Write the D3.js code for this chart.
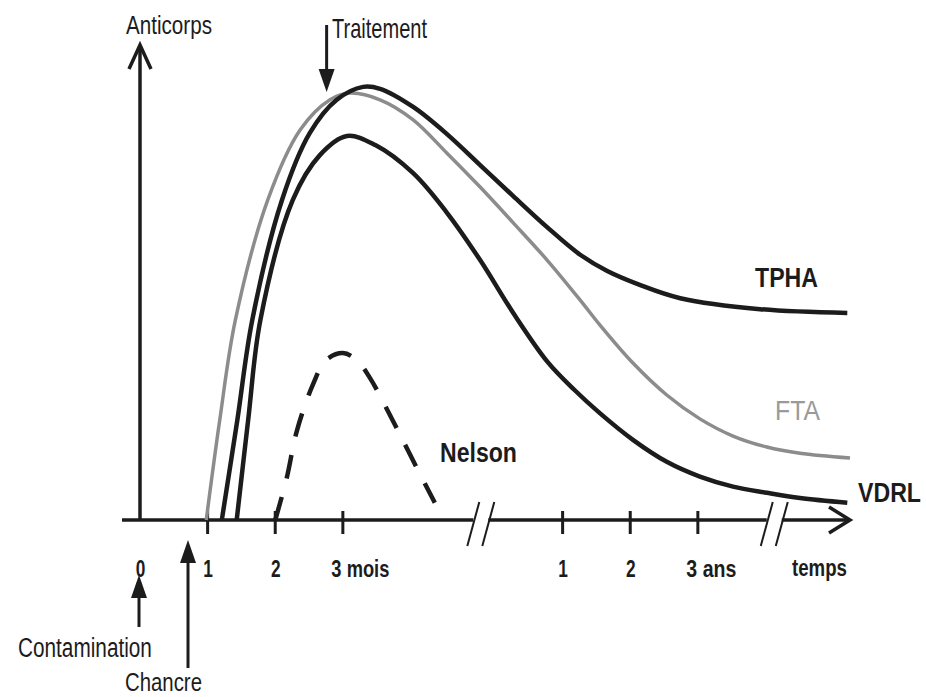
<!DOCTYPE html>
<html><head><meta charset="utf-8">
<script src="https://cdn.jsdelivr.net/npm/d3@7"></script>
<style>body{margin:0;background:#fff}svg{display:block}</style>
</head><body><svg id="c" width="926" height="697"></svg>
<script>
// ---- data (time units: 0..3 = months, 6.25..8.25 = years on a broken axis) ----
const tpha = [[1.21,0],[1.44,21.0],[1.66,41.9],[2.10,67.1],[2.51,81.1],[2.91,88.1],[3.30,90.8],[3.55,90.4],[4.04,86.6],[4.54,80.9],[5.03,74.4],[5.52,67.9],[6.02,61.4],[6.51,55.6],[6.91,52.2],[7.39,49.3],[7.99,46.5],[9.17,44.2],[10.46,43.4]];
const fta  = [[0.98,0],[1.18,21.0],[1.41,41.9],[1.89,67.1],[2.37,81.8],[2.81,88.1],[3.11,89.5],[3.55,88.1],[4.04,83.9],[4.54,76.9],[5.03,69.8],[5.52,62.3],[6.02,54.5],[6.51,46.1],[6.80,40.9],[7.29,32.9],[7.79,26.2],[8.28,21.2],[8.77,17.6],[9.27,15.3],[9.76,14.0],[10.50,13.0]];
const vdrl = [[1.43,0],[1.60,21.0],[1.78,41.9],[2.26,67.1],[2.66,76.5],[3.06,80.5],[3.48,78.6],[4.04,72.7],[4.54,64.4],[5.03,54.5],[5.52,43.4],[6.03,33.1],[6.43,27.2],[6.80,22.4],[7.29,16.8],[7.79,12.2],[8.28,9.1],[8.77,7.0],[9.27,5.7],[9.76,4.6],[10.46,3.6]];
const nelson = [[2.00,0],[2.17,8.8],[2.32,18.7],[2.56,28.5],[2.75,33.5],[3.00,35.0],[3.20,33.6],[3.40,29.8],[3.74,20.8],[4.04,12.4],[4.36,3.6]];
const tickPos = [0, 1, 2, 3, 6.25, 7.25, 8.25];
const tickLabels = ["0", "1", "2", "3 mois", "1", "2", "3 ans"];
const breaks = [5.04, 9.38];
const eventNames = ["Contamination", "Chancre", "Traitement"];
const eventTimes = [0, 0.71, 2.76];

// ---- drawing ----
const FONT = '"Liberation Sans",Arial,sans-serif';
const INK = "#1c1c1c";
const svg = d3.select("#c");
const x = d3.scaleLinear().domain([0, 10.5]).range([140, 850]);
const y = d3.scaleLinear().domain([0, 100]).range([520, 43]);
const y0 = y(0);

// x axis line split at breaks
const gap = 7.5;
const segs = [[x(0) - 18, x(breaks[0]) - gap], [x(breaks[0]) + gap, x(breaks[1]) - gap], [x(breaks[1]) + gap, x(10.5) - 1]];
svg.selectAll("line.xaxis").data(segs).enter().append("line")
  .attr("x1", d => d[0]).attr("x2", d => d[1]).attr("y1", y0).attr("y2", y0)
  .attr("stroke", INK).attr("stroke-width", 3.5);
svg.append("path").attr("d", `M${x(10.5)-21},${y0-13}L${x(10.5)},${y0}L${x(10.5)-21},${y0+13}`)
  .attr("fill", "none").attr("stroke", INK).attr("stroke-width", 3.5);
breaks.forEach(b => {
  [-gap, gap].forEach(o => {
    const cx = x(b) + o;
    svg.append("line").attr("x1", cx - 6).attr("y1", y0 + 26).attr("x2", cx + 6).attr("y2", y0 - 18)
      .attr("stroke", INK).attr("stroke-width", 2);
  });
});
// y axis
svg.append("line").attr("x1", x(0)).attr("x2", x(0)).attr("y1", y0).attr("y2", y(100) + 2)
  .attr("stroke", INK).attr("stroke-width", 3.5);
svg.append("path").attr("d", `M${x(0)-11},${y(100)+26}L${x(0)},${y(100)+2}L${x(0)+11},${y(100)+26}`)
  .attr("fill", "none").attr("stroke", INK).attr("stroke-width", 3.5);

// ticks (skip 0: y axis there)
svg.selectAll("line.tick").data(tickPos.filter(t => t > 0)).enter().append("line")
  .attr("x1", d => x(d)).attr("x2", d => x(d)).attr("y1", y0 - 9).attr("y2", y0 + 14)
  .attr("stroke", INK).attr("stroke-width", 3);

// text helper: condensed face of the original, obtained by horizontal scaling
function lab(t, xx, yy, size, opts) {
  opts = opts || {};
  const s = svg.append("text").attr("x", 0).attr("y", 0).text(t)
    .attr("font-family", FONT).attr("font-size", size)
    .attr("font-weight", opts.w || "normal").attr("fill", opts.c || INK)
    .attr("text-anchor", opts.anchor || "start");
  const k = opts.width ? opts.width / s.node().getComputedTextLength() : 1;
  s.attr("transform", `translate(${xx},${yy}) scale(${k},1)`);
  return s;
}

// tick labels via d3 axis
const ax = d3.axisBottom(x).tickValues(tickPos).tickFormat((d, i) => tickLabels[i]).tickSize(0).tickPadding(0);
const gAx = svg.append("g").attr("transform", `translate(0,${y0})`).call(ax);
gAx.select(".domain").remove();
gAx.selectAll("text").attr("font-family", FONT).attr("font-size", 24).attr("font-weight", "bold")
  .attr("fill", INK).attr("y", 57).attr("dy", 0)
  .each(function(d, i) {
    const el = d3.select(this);
    const w = this.getComputedTextLength();
    if (tickLabels[i].indexOf(" ") > 0) {
      el.attr("text-anchor", "start").attr("x", -12).attr("textLength", tickLabels[i].length > 5 ? 58 : 50);
    } else {
      el.attr("textLength", w * 0.72);
    }
    el.attr("lengthAdjust", "spacingAndGlyphs");
  });
lab("temps", 792, 576, 24, {w: "bold", width: 55});

// curves
const line = d3.line().x(d => x(d[0])).y(d => y(d[1])).curve(d3.curveCatmullRom.alpha(0.5));
svg.append("path").datum(fta).attr("d", line).attr("fill", "none").attr("stroke", "#8c8c8c").attr("stroke-width", 3.5);
svg.append("path").datum(tpha).attr("d", line).attr("fill", "none").attr("stroke", INK).attr("stroke-width", 4.5);
svg.append("path").datum(vdrl).attr("d", line).attr("fill", "none").attr("stroke", INK).attr("stroke-width", 4.5);
svg.append("path").datum(nelson).attr("d", line).attr("fill", "none").attr("stroke", INK).attr("stroke-width", 4.5)
  .attr("stroke-dasharray", "24,19");

// series labels
lab("TPHA", 755, 287, 28, {w: "bold", width: 63});
lab("FTA", 775, 420, 28, {c: "#9a9a9a", width: 45});
lab("VDRL", 858, 502, 28, {w: "bold", width: 63});
lab("Nelson", 440, 462, 28, {w: "bold", width: 77});
lab("Anticorps", 126, 34, 25, {width: 86});

// event arrows
function arrow(xx, yFrom, yTip, dir) {
  svg.append("line").attr("x1", xx).attr("x2", xx).attr("y1", yFrom).attr("y2", yTip - dir * 10)
    .attr("stroke", INK).attr("stroke-width", 3);
  svg.append("path").attr("d", `M${xx},${yTip}L${xx-8},${yTip - dir*23}L${xx+8},${yTip - dir*23}Z`).attr("fill", INK);
}
arrow(x(eventTimes[0]) - 1, 627, 575, -1);
lab(eventNames[0], 18, 657, 27, {width: 134});
arrow(x(eventTimes[1]), 668, 540, -1);
lab(eventNames[1], 125, 691, 25, {width: 77});
arrow(x(eventTimes[2]), 25, 92, 1);
lab(eventNames[2], 332, 38, 27, {width: 95});
</script></body></html>
